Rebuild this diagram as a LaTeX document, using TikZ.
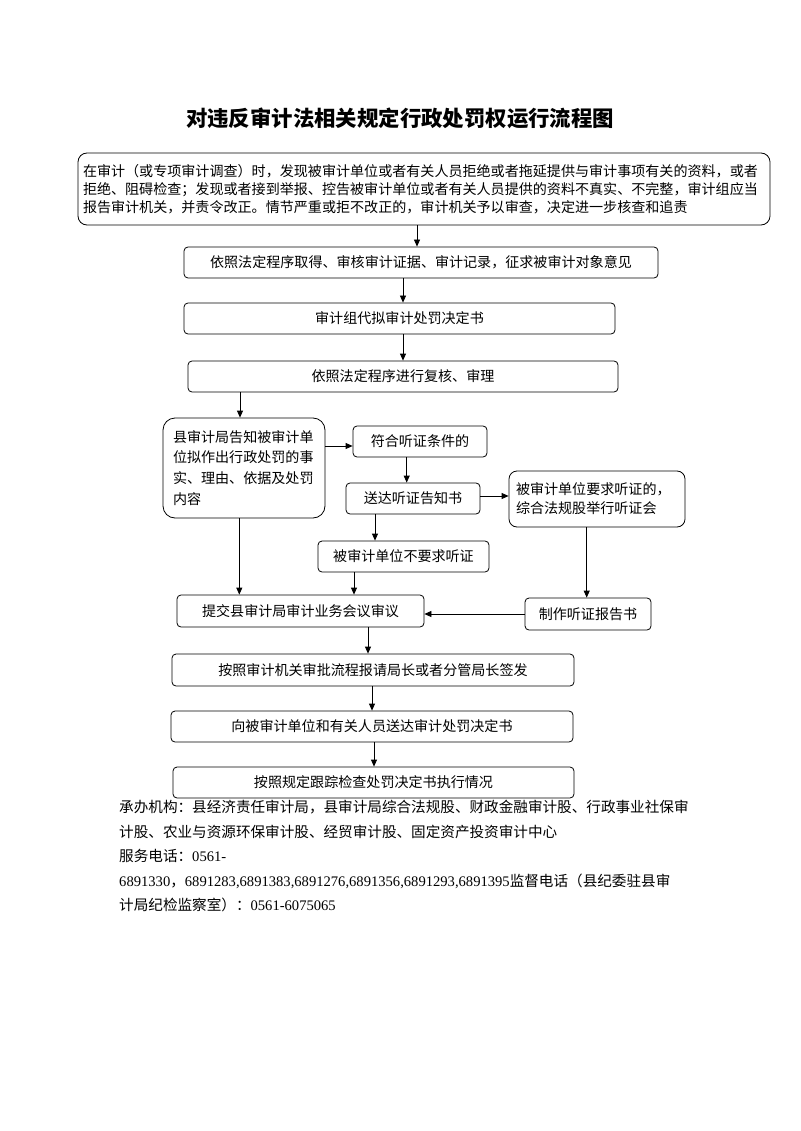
\documentclass[tikz,border=0pt]{standalone}
\usepackage{fontspec}
\setmainfont{Liberation Serif}
\newfontfamily\cjk{Noto Sans CJK SC}
\usetikzlibrary{arrows.meta}
\newcommand\lat[1]{{\rmfamily #1}}
\begin{document}
\begin{tikzpicture}[x=1pt,y=-1pt,
  box/.style={draw, line width=0.8pt, rounded corners=4pt, inner sep=0pt,
    font=\cjk\fontsize{14.06}{18}\selectfont, align=center},
  arr/.style={draw, line width=0.8pt, -{Triangle[length=7pt,width=6pt]}},
  foot/.style={anchor=base west, inner sep=0pt, font=\cjk\fontsize{14.6}{18}\selectfont}]
\fill[white] (0,0) rectangle (800,1131);
\useasboundingbox (0,0) rectangle (800,1131);

\node[inner sep=0pt, font=\cjk\bfseries\fontsize{21.4}{24}\selectfont] (title) at (400,118) {对违反审计法相关规定行政处罚权运行流程图};

\node[box, rounded corners=9pt, align=left, text width=682pt, inner xsep=5pt, minimum height=72pt] (b1) at (424,189)
 {在审计（或专项审计调查）时，发现被审计单位或者有关人员拒绝或者拖延提供与审计事项有关的资料，或者\\
  拒绝、阻碍检查；发现或者接到举报、控告被审计单位或者有关人员提供的资料不真实、不完整，审计组应当\\
  报告审计机关，并责令改正。情节严重或拒不改正的，审计机关予以审查，决定进一步核查和追责};

\node[box, minimum width=474pt, minimum height=31pt] (b2) at (421,262.5) {依照法定程序取得、审核审计证据、审计记录，征求被审计对象意见};
\node[box, minimum width=431pt, minimum height=31pt] (b3) at (399.5,318.5) {审计组代拟审计处罚决定书};
\node[box, minimum width=430pt, minimum height=31pt] (b4) at (403,376.5) {依照法定程序进行复核、审理};

\node[box, rounded corners=12pt, align=left, text width=142pt, inner xsep=10pt, minimum height=100pt,
  font=\cjk\fontsize{14.06}{20.8}\selectfont] (b5) at (244,468)
 {县审计局告知被审计单\\位拟作出行政处罚的事\\实、理由、依据及处罚\\内容};

\node[box, minimum width=134pt, minimum height=31pt] (b6) at (420,441.5) {符合听证条件的};
\node[box, minimum width=134pt, minimum height=31pt] (b7) at (413,498.5) {送达听证告知书};
\node[box, rounded corners=8pt, align=left, text width=162pt, inner xsep=7pt, minimum height=56pt,
  font=\cjk\fontsize{14.06}{19}\selectfont] (b8) at (597,499)
 {被审计单位要求听证的，\\综合法规股举行听证会};
\node[box, minimum width=171pt, minimum height=31pt] (b9) at (403.5,556.5) {被审计单位不要求听证};
\node[box, minimum width=247pt, minimum height=32pt] (b10) at (300.5,611) {提交县审计局审计业务会议审议};
\node[box, minimum width=126pt, minimum height=32pt] (b11) at (588,614) {制作听证报告书};
\node[box, minimum width=402pt, minimum height=32pt] (b12) at (373,670) {按照审计机关审批流程报请局长或者分管局长签发};
\node[box, minimum width=402pt, minimum height=31pt] (b13) at (372,726.5) {向被审计单位和有关人员送达审计处罚决定书};
\node[box, minimum width=401pt, minimum height=31pt] (b14) at (373.5,782.5) {按照规定跟踪检查处罚决定书执行情况};

% connectors
\draw[arr] ([xshift=-4pt]b2.north |- b1.south) -- ([xshift=-4pt]b2.north);
\draw[arr] ([xshift=3.5pt]b3.north |- b2.south) -- ([xshift=3.5pt]b3.north);
\draw[arr] (b4.north |- b3.south) -- (b4.north);
\draw[arr] ([xshift=-4pt]b5.north |- b4.south) -- ([xshift=-4pt]b5.north);
\draw[arr] ([yshift=-4.5pt]b6.west -| b5.east) -- ([yshift=-4.5pt]b6.west);
\draw[arr] ([xshift=-6.3pt]b7.north |- b6.south) -- ([xshift=-6.3pt]b7.north);
\draw[arr] ([yshift=3pt]b8.west -| b7.east) -- ([yshift=3pt]b8.west);
\draw[arr] ([xshift=-28.5pt]b9.north |- b7.south) -- ([xshift=-28.5pt]b9.north);
\draw[arr] ([xshift=53.5pt]b10.north |- b9.south) -- ([xshift=53.5pt]b10.north);
\draw[arr] ([xshift=-61.2pt]b10.north |- b5.south) -- ([xshift=-61.2pt]b10.north);
\draw[arr] ([xshift=-1.3pt]b11.north |- b8.south) -- ([xshift=-1.3pt]b11.north);
\draw[arr] ([yshift=-3pt]b10.east -| b11.west) -- ([yshift=-3pt]b10.east);
\draw[arr] ([xshift=-5pt]b12.north |- b10.south) -- ([xshift=-5pt]b12.north);
\draw[arr] (b13.north |- b12.south) -- (b13.north);
\draw[arr] ([xshift=0.5pt]b14.north |- b13.south) -- ([xshift=0.5pt]b14.north);

% footer
\node[foot] (f1) at (119,812) {承办机构：县经济责任审计局，县审计局综合法规股、财政金融审计股、行政事业社保审};
\node[foot] (f2) at (119,837) {计股、农业与资源环保审计股、经贸审计股、固定资产投资审计中心};
\node[foot] (f3) at (119,861.5) {服务电话：\lat{0561-}};
\node[foot] (f4) at (119,886.5) {\lat{6891330}，\lat{6891283,6891383,6891276,6891356,6891293,6891395}监督电话（县纪委驻县审};
\node[foot] (f5) at (119,910.5) {计局纪检监察室）：\lat{0561-6075065}};
\end{tikzpicture}
\end{document}
